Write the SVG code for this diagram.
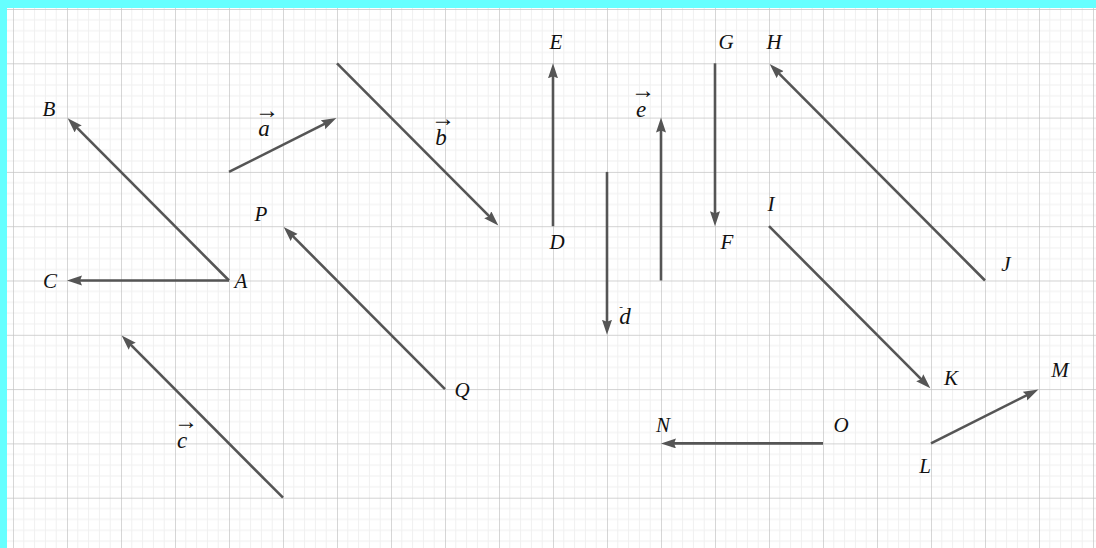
<svg xmlns="http://www.w3.org/2000/svg" width="1096" height="548" viewBox="0 0 1096 548">
<style>
.lbl{font-family:"Liberation Serif","Times New Roman",serif;font-style:italic;font-size:21px;fill:#111;text-anchor:middle}
.vl{font-family:"Liberation Serif","Times New Roman",serif;font-style:italic;font-size:23px;fill:#111;text-anchor:middle}
.ar{font-style:normal;font-size:24px}
.vec{stroke:#555;stroke-width:2.6;fill:none;marker-end:url(#ah)}
</style>
<defs>
<marker id="ah" markerUnits="userSpaceOnUse" markerWidth="18" markerHeight="12" refX="9" refY="5" orient="auto">
<path d="M0,0 L15,5 L0,10 L2,5 z" fill="#555"/>
</marker>
<pattern id="grid" patternUnits="userSpaceOnUse" x="13" y="9" width="54" height="54.3">
<path d="M10.8,0V54.3M21.6,0V54.3M32.4,0V54.3M43.2,0V54.3M0,10.86H54M0,21.72H54M0,32.58H54M0,43.44H54" stroke="#f0f0f0" stroke-width="1"/>
<path d="M0,0V54.3M0,0H54" stroke="#c4c4c4" stroke-width="1.4"/>
</pattern>
</defs>
<rect width="1096" height="548" fill="#fff"/>
<rect width="1096" height="548" fill="url(#grid)"/>
<rect x="0" y="0" width="1096" height="8" fill="#66ffff"/>
<rect x="0" y="0" width="7" height="548" fill="#66ffff"/>
<g id="connectors">
<line class="vec" x1="229" y1="280.5" x2="71.9" y2="122.6"/>
<line class="vec" x1="229" y1="280.5" x2="73" y2="280.5"/>
<line class="vec" x1="229" y1="171.9" x2="331" y2="120.7"/>
<line class="vec" x1="337" y1="63.3" x2="494.1" y2="221.2"/>
<line class="vec" x1="283" y1="497.7" x2="125.9" y2="339.8"/>
<line class="vec" x1="445" y1="389.1" x2="287.9" y2="231.2"/>
<line class="vec" x1="553" y1="226.2" x2="553" y2="69.3"/>
<line class="vec" x1="607" y1="171.9" x2="607" y2="328.8"/>
<line class="vec" x1="661" y1="280.5" x2="661" y2="123.6"/>
<line class="vec" x1="715" y1="63.3" x2="715" y2="220.2"/>
<line class="vec" x1="985" y1="280.5" x2="773.9" y2="68.3"/>
<line class="vec" x1="769" y1="226.2" x2="926.1" y2="384.1"/>
<line class="vec" x1="823" y1="443.4" x2="667" y2="443.4"/>
<line class="vec" x1="931" y1="443.4" x2="1033" y2="392.1"/>
</g>
<g id="A"><text class="lbl" x="241" y="288">A</text></g>
<g id="B"><text class="lbl" x="49" y="116">B</text></g>
<g id="C"><text class="lbl" x="50" y="288">C</text></g>
<g id="D"><text class="lbl" x="557" y="249">D</text></g>
<g id="E"><text class="lbl" x="556" y="49">E</text></g>
<g id="F"><text class="lbl" x="727" y="249">F</text></g>
<g id="G"><text class="lbl" x="726" y="49">G</text></g>
<g id="H"><text class="lbl" x="774" y="49">H</text></g>
<g id="I"><text class="lbl" x="771" y="211">I</text></g>
<g id="J"><text class="lbl" x="1006" y="271">J</text></g>
<g id="K"><text class="lbl" x="951" y="385">K</text></g>
<g id="L"><text class="lbl" x="925" y="473">L</text></g>
<g id="M"><text class="lbl" x="1060" y="377">M</text></g>
<g id="N"><text class="lbl" x="663" y="432">N</text></g>
<g id="O"><text class="lbl" x="841" y="432">O</text></g>
<g id="P"><text class="lbl" x="261" y="221">P</text></g>
<g id="Q"><text class="lbl" x="462" y="397">Q</text></g>
<g id="va"><text class="vl"><tspan class="ar" x="267" y="118">→</tspan><tspan x="264" y="136">a</tspan></text></g>
<g id="vb"><text class="vl"><tspan class="ar" x="443" y="126">→</tspan><tspan x="441" y="145">b</tspan></text></g>
<g id="vc"><text class="vl"><tspan class="ar" x="186" y="429">→</tspan><tspan x="182" y="448">c</tspan></text></g>
<g id="vd"><text class="vl"><tspan class="ar" x="621" y="310" style="font-size:11px">-</tspan><tspan x="625" y="324">d</tspan></text></g>
<g id="ve"><text class="vl"><tspan class="ar" x="643" y="98">→</tspan><tspan x="641" y="117">e</tspan></text></g>
</svg>
